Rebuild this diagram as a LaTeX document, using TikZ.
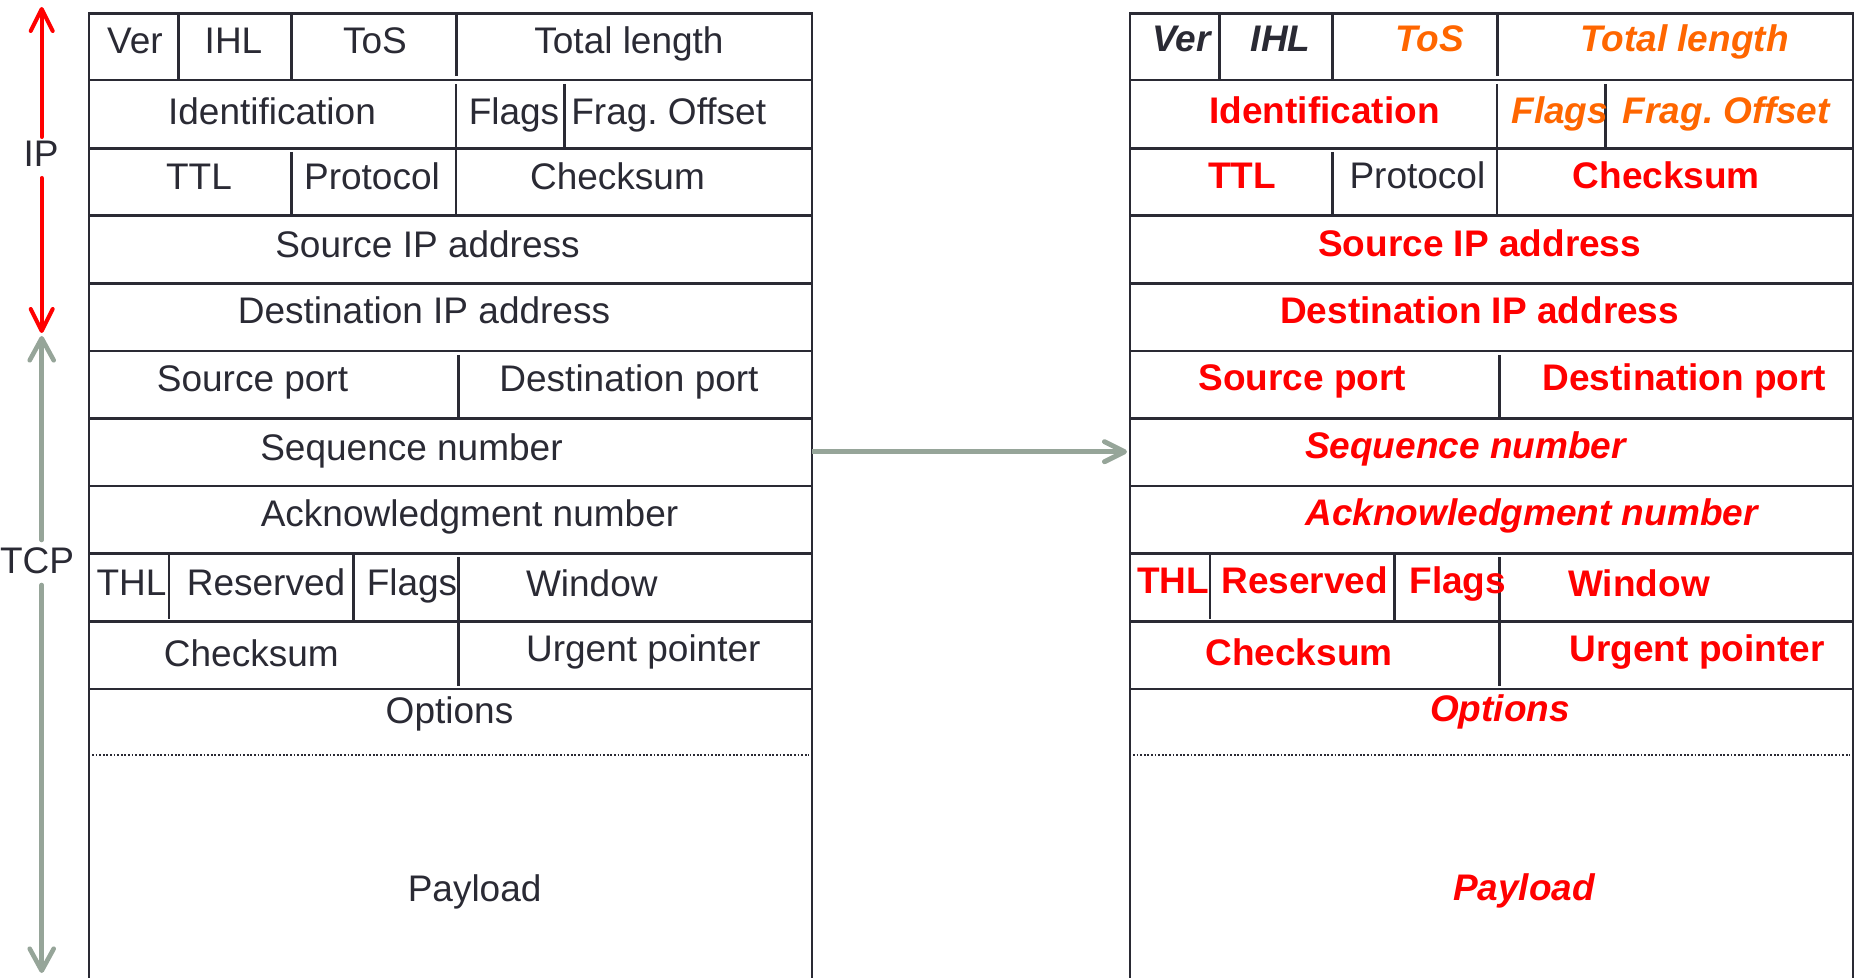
\documentclass[tikz,border=0pt]{standalone}
\usepackage{fontspec}
\setmainfont{Liberation Sans}
\usetikzlibrary{arrows.meta}
\frenchspacing
\definecolor{ink}{RGB}{42,42,52}
\definecolor{tred}{RGB}{255,0,0}
\definecolor{torange}{RGB}{255,102,0}
\definecolor{tgray}{RGB}{150,165,153}
\newcommand{\hdrgrid}{%
  \draw[grid] (0,978) -- (0,13.3) -- (723,13.3) -- (723,978);
  \foreach \yy in {80,148.3,215.7,283.3,351,418.3,486,553.3,621.5,689}
    \draw[grid] (0,\yy) -- (723,\yy);
  % row 1
  \draw[grid] (89.5,13.3) -- (89.5,80);
  \draw[grid] (202.5,13.3) -- (202.5,80);
  \draw[grid] (367.5,13.3) -- (367.5,76);
  % row 2
  \draw[grid] (367,84) -- (367,148.3);
  \draw[grid] (475.5,84) -- (475.5,148.3);
  % row 3
  \draw[grid] (202.5,152) -- (202.5,215.7);
  \draw[grid] (367,148.3) -- (367,215.7);
  % row 6
  \draw[grid] (369.5,355) -- (369.5,418.3);
  % row 9
  \draw[grid] (80,553.3) -- (80,619);
  \draw[grid] (264.5,553.3) -- (264.5,621.5);
  \draw[grid] (369.5,557) -- (369.5,621.5);
  % row 10
  \draw[grid] (369.5,621.5) -- (369.5,686);
  % options / payload separator
  \draw[dotline] (3,755) -- (720,755);
}
\begin{document}
\begin{tikzpicture}[x=0.5pt,y=-0.5pt,
  grid/.style={draw=ink,line width=1.25pt},
  dotline/.style={draw=ink,line width=0.9pt,dash pattern=on 0.9pt off 0.9pt},
  lab/.style={anchor=base,inner sep=0pt,font=\fontsize{18.5}{22}\selectfont,text=ink},
  rb/.style={lab,font=\fontsize{18.5}{22}\selectfont\bfseries,text=tred},
  rbi/.style={lab,font=\fontsize{18.5}{22}\selectfont\bfseries\itshape,text=tred},
  obi/.style={lab,font=\fontsize{18.5}{22}\selectfont\bfseries\itshape,text=torange},
  kbi/.style={lab,font=\fontsize{18.5}{22}\selectfont\bfseries\itshape,text=ink},
  iparrow/.style={draw=tred,line width=2pt,line cap=round},
  tcparrow/.style={draw=tgray,line width=2.3pt,line cap=round},
  flowarrow/.style={draw=tgray,line width=2.5pt},
  barbR/.tip={Straight Barb[length=11pt,width=11pt,line cap=round,line join=round]},
  barbG/.tip={Straight Barb[length=11pt,width=12pt,line cap=round,line join=round]},
  barbF/.tip={Straight Barb[length=10pt,width=10pt,line cap=round,line join=round]}]
\useasboundingbox (0,0) rectangle (1858,978);

% tables
\begin{scope}[shift={(89,0)}]\hdrgrid\end{scope}
\begin{scope}[shift={(1130,0)}]\hdrgrid\end{scope}

% side arrows
\coordinate (ipTop) at (41.7,7);
\coordinate (ipA) at (41.7,137);
\coordinate (ipB) at (41.7,178);
\coordinate (ipBot) at (41.7,333);
\draw[iparrow,-barbR] (ipA) -- (ipTop);
\draw[iparrow,-barbR] (ipB) -- (ipBot);
\node[lab] (iplab) at (41,166.7) {IP};

\coordinate (tcpTop) at (41.7,336);
\coordinate (tcpA) at (41.7,540);
\coordinate (tcpB) at (41.7,585);
\coordinate (tcpBot) at (41.7,973);
\draw[tcparrow,-barbG] (tcpA) -- (tcpTop);
\draw[tcparrow,-barbG] (tcpB) -- (tcpBot);
\node[lab] (tcplab) at (37,573.3) {TCP};

% flow arrow
\coordinate (seqL) at (812,451.7);
\coordinate (seqR) at (1127,451.7);
\draw[flowarrow,-barbF] (seqL) -- (seqR);

% left texts
\node[lab] (lver) at (135,53.3) {Ver};
\node[lab] (lihl) at (233.5,53.3) {IHL};
\node[lab] (ltos) at (375,53.3) {ToS};
\node[lab] (ltot) at (629,53.3) {Total length};
\node[lab] (lid) at (272,125) {Identification};
\node[lab] (lflg) at (514,125) {Flags};
\node[lab] (lfrag) at (668.7,125) {Frag. Offset};
\node[lab] (lttl) at (199,190) {TTL};
\node[lab] (lprot) at (372,190) {Protocol};
\node[lab] (lcks) at (617.5,190) {Checksum};
\node[lab] (lsip) at (427.5,257.3) {Source IP address};
\node[lab] (ldip) at (424,324) {Destination IP address};
\node[lab] (lsp) at (252.5,391.7) {Source port};
\node[lab] (ldp) at (629,391.7) {Destination port};
\node[lab] (lseq) at (411.5,460) {Sequence number};
\node[lab] (lack) at (469.5,526.7) {Acknowledgment number};
\node[lab] (lthl) at (131.5,595) {THL};
\node[lab] (lres) at (266,595) {Reserved};
\node[lab] (ltfl) at (412,595) {Flags};
\node[lab] (lwin) at (591.8,596.7) {Window};
\node[lab] (ltck) at (251.3,666) {Checksum};
\node[lab] (lurg) at (643.3,661.7) {Urgent pointer};
\node[lab] (lopt) at (449.5,723.3) {Options};
\node[lab] (lpay) at (474.6,901.7) {Payload};

% right texts
\node[kbi] (rver) at (1181.4,51.7) {Ver};
\node[kbi] (rihl) at (1280.6,51.7) {IHL};
\node[obi] (rtos) at (1429.4,51.7) {ToS};
\node[obi] (rtot) at (1684.5,51.7) {Total length};
\node[rb] (rid) at (1324.6,124) {Identification};
\node[obi] (rflg) at (1559.8,124) {Flags};
\node[obi] (rfrag) at (1726.3,124) {Frag. Offset};
\node[rb] (rttl) at (1242,188.3) {TTL};
\node[lab] (rprot) at (1417.4,188.3) {Protocol};
\node[rb] (rcks) at (1666.3,188.3) {Checksum};
\node[rb] (rsip) at (1479.7,256.7) {Source IP address};
\node[rb] (rdip) at (1479.7,323.3) {Destination IP address};
\node[rb] (rsp) at (1302.4,390.7) {Source port};
\node[rb] (rdp) at (1684.4,390.7) {Destination port};
\node[rbi] (rseq) at (1465.5,458.3) {Sequence number};
\node[rbi] (rack) at (1531.5,525.7) {Acknowledgment number};
\node[rb] (rthl) at (1173.2,593.3) {THL};
\node[rb] (rres) at (1304.7,593.3) {Reserved};
\node[rb] (rtfl) at (1457.7,593.3) {Flags};
\node[rb] (rwin) at (1639,596.7) {Window};
\node[rb] (rtck) at (1299,665) {Checksum};
\node[rb] (rurg) at (1697,661.7) {Urgent pointer};
\node[rbi] (ropt) at (1500,721.7) {Options};
\node[rbi] (rpay) at (1524,900) {Payload};
\end{tikzpicture}
\end{document}
